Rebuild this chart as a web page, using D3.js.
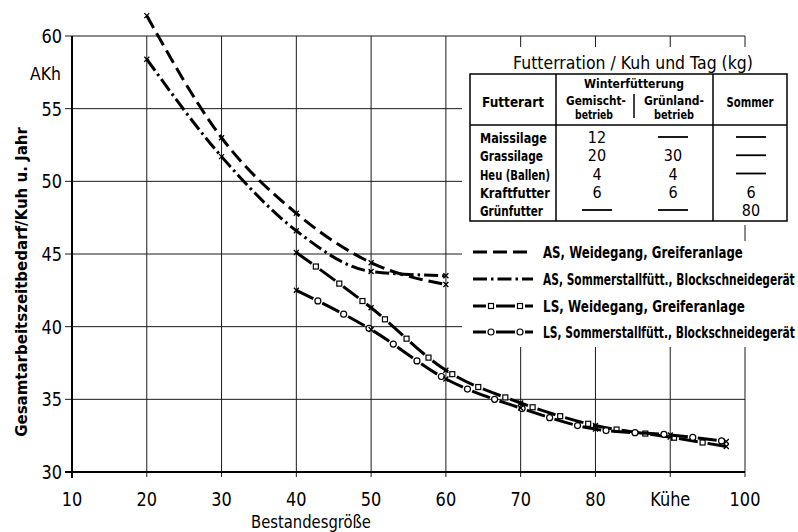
<!DOCTYPE html>
<html lang="de">
<head>
  <meta charset="UTF-8">
  <title>Gesamtarbeitszeitbedarf</title>
  <style>
    body { margin: 0; background: #fff; }
    svg { display: block; font-family: "DejaVu Sans", sans-serif; }
  </style>
</head>
<body>
  <script src="https://d3js.org/d3.v7.min.js"></script>
  <script>

    // herd size (cows) and working time per cow and year (AKh)
    const asHerd = [20, 30, 40, 50, 60];
    const lsHerd = [40, 50, 60, 70, 80, 90, 97.5];
    const asWeide = [61.4, 53.0, 47.8, 44.4, 42.9];
    const asSommer = [58.4, 51.7, 46.6, 43.8, 43.5];
    const lsWeide = [45.1, 41.3, 37.0, 34.75, 33.2, 32.4, 31.75];
    const lsSommer = [42.5, 39.8, 36.4, 34.4, 32.95, 32.55, 32.1];
    const seriesNames = [
      'AS, Weidegang, Greiferanlage',
      'AS, Sommerstallfütt., Blockschneidegerät',
      'LS, Weidegang, Greiferanlage',
      'LS, Sommerstallfütt., Blockschneidegerät'
    ];

    const xTicks = [10, 20, 30, 40, 50, 60, 70, 80, 90, 100];
    const xTickLabels = ['10', '20', '30', '40', '50', '60', '70', '80', 'Kühe', '100'];
    const yTicks = [30, 35, 40, 45, 50, 55, 60];

    // feed ration table
    const feedTypes = ['Maissilage', 'Grassilage', 'Heu (Ballen)', 'Kraftfutter', 'Grünfutter'];
    const winterMixed = ['12', '20', '4', '6', null];
    const winterGrass = [null, '30', '4', '6', null];
    const summer = [null, null, null, '6', '80'];

    const width = 798, height = 532;
    const svg = d3.select('body').append('svg')
      .attr('width', width)
      .attr('height', height);

    // the lettering of the original is narrow; squeeze a text horizontally to a width
    function squeeze(parent, txt, px, py, w, opts = {}) {
      const g = parent.append('g');
      const t = g.append('text')
        .attr('text-anchor', opts.anchor || 'start')
        .attr('font-size', opts.size || 14)
        .attr('font-weight', opts.weight || 'normal')
        .attr('dy', opts.dy || 0)
        .text(txt);
      const len = t.node().getComputedTextLength();
      const sx = w ? Math.min(1, w / len) : (opts.sx || 1);
      g.attr('transform', `translate(${px},${py})${opts.rotate ? ' rotate(' + opts.rotate + ')' : ''} scale(${sx},1)`);
      return t;
    }

    const x = d3.scaleLinear().domain([10, 100]).range([72, 745]);
    const y = d3.scaleLinear().domain([30, 60]).range([472, 36]);

    // grid
    const grid = svg.append('g').attr('stroke', '#1a1a1a').attr('stroke-width', 1);
    grid.selectAll('line.v')
      .data(xTicks.slice(1))
      .join('line')
      .attr('x1', d => x(d)).attr('x2', d => x(d))
      .attr('y1', y(60)).attr('y2', y(30) + 5);
    grid.selectAll('line.h')
      .data(yTicks.slice(1))
      .join('line')
      .attr('x1', x(10) - 7).attr('x2', x(100))
      .attr('y1', d => y(d)).attr('y2', d => y(d));

    // axes
    svg.append('line')
      .attr('x1', x(10)).attr('x2', x(10))
      .attr('y1', y(60)).attr('y2', y(30) + 6)
      .attr('stroke', '#000').attr('stroke-width', 2);
    svg.append('line')
      .attr('x1', x(10) - 7).attr('x2', x(100))
      .attr('y1', y(30)).attr('y2', y(30))
      .attr('stroke', '#000').attr('stroke-width', 2);

    const ticks = svg.append('g');
    yTicks.forEach(v => {
      squeeze(ticks, String(v), x(10) - 10, y(v), null, { anchor: 'end', size: 19, dy: '0.36em', sx: 0.85 });
    });
    xTicks.forEach((v, i) => {
      squeeze(ticks, xTickLabels[i], x(v), 506, null, { anchor: 'middle', size: 19, sx: 0.85 });
    });

    squeeze(svg, 'AKh', 61, 80, 31, { anchor: 'end', size: 18 });

    squeeze(svg, 'Gesamtarbeitszeitbedarf/Kuh  u. Jahr', 27, 282, 310,
      { anchor: 'middle', size: 16, weight: 'bold', rotate: -90 });

    squeeze(svg, 'Bestandesgröße', 311, 528, 120, { anchor: 'middle', size: 17 });

    // curves
    const line = d3.line()
      .x(d => x(d[0]))
      .y(d => y(d[1]))
      .curve(d3.curveMonotoneX);

    const series = [
      { name: seriesNames[0], xs: asHerd, ys: asWeide, dash: '14 6', mark: null },
      { name: seriesNames[1], xs: asHerd, ys: asSommer, dash: '14 4 2.5 4', mark: null },
      { name: seriesNames[2], xs: lsHerd, ys: lsWeide, dash: '19 10', mark: 'square' },
      { name: seriesNames[3], xs: lsHerd, ys: lsSommer, dash: '19 10', mark: 'circle' }
    ];

    function drawMark(g, kind, px, py) {
      if (kind === 'square') {
        g.append('rect')
          .attr('x', px - 2.5).attr('y', py - 2.5)
          .attr('width', 5).attr('height', 5)
          .attr('fill', '#fff').attr('stroke', '#000').attr('stroke-width', 1.2);
      } else if (kind === 'circle') {
        g.append('circle')
          .attr('cx', px).attr('cy', py).attr('r', 3)
          .attr('fill', '#fff').attr('stroke', '#000').attr('stroke-width', 1.2);
      }
    }

    // dash pattern with open symbols set into the gaps
    function patterned(g, d, s, offset, firstMark) {
      const path = g.append('path')
        .attr('d', d)
        .attr('fill', 'none')
        .attr('stroke', '#000')
        .attr('stroke-width', 3)
        .attr('stroke-dasharray', s.dash)
        .attr('stroke-dashoffset', offset);
      if (s.mark) {
        const node = path.node();
        const len = node.getTotalLength();
        for (let t = firstMark; t < len - 3; t += 29) {
          const p = node.getPointAtLength(t);
          drawMark(g, s.mark, p.x, p.y);
        }
      }
    }

    const plot = svg.append('g');
    series.forEach(s => {
      const pts = d3.zip(s.xs, s.ys);
      patterned(plot, line(pts), s, 0, 24);
      plot.selectAll(null)
        .data(pts)
        .join('path')
        .attr('transform', d => `translate(${x(d[0])},${y(d[1])})`)
        .attr('d', 'M-2.5,-2.5L2.5,2.5M-2.5,2.5L2.5,-2.5')
        .attr('stroke', '#000')
        .attr('stroke-width', 1.3);
    });

    // table
    const tb = svg.append('g');
    tb.append('rect').attr('x', 462).attr('y', 47).attr('width', 336).attr('height', 178).attr('fill', '#fff');
    squeeze(tb, 'Futterration / Kuh und Tag (kg)', 633, 69, 240, { anchor: 'middle', size: 17 });

    const colX = [470, 556, 713, 787];
    const tTop = 74, tHead = 125, tBottom = 221;
    tb.append('rect')
      .attr('x', colX[0]).attr('y', tTop)
      .attr('width', colX[3] - colX[0]).attr('height', tBottom - tTop)
      .attr('fill', 'none').attr('stroke', '#000').attr('stroke-width', 1.5);
    const tl = tb.append('g').attr('stroke', '#000').attr('stroke-width', 1.5);
    tl.append('line').attr('x1', colX[0]).attr('x2', colX[3]).attr('y1', tHead).attr('y2', tHead);
    tl.append('line').attr('x1', colX[1]).attr('x2', colX[1]).attr('y1', tTop).attr('y2', tBottom);
    tl.append('line').attr('x1', colX[2]).attr('x2', colX[2]).attr('y1', tTop).attr('y2', tBottom);
    tl.append('line').attr('x1', 634).attr('x2', 634).attr('y1', 94).attr('y2', 118);

    const headCells = [
      ['Futterart', 513, 107, 62, 14],
      ['Winterfütterung', 634, 88, 100, 13],
      ['Gemischt-', 596, 105, 60, 12.5],
      ['betrieb', 594, 119, 38, 12.5],
      ['Grünland-', 674, 105, 60, 12.5],
      ['betrieb', 674, 119, 40, 12.5],
      ['Sommer', 750, 107, 47, 14]
    ];
    headCells.forEach(([t, hx, hy, w, fs]) => {
      squeeze(tb, t, hx, hy, w, { anchor: 'middle', size: fs, weight: 'bold' });
    });

    const rowY = d3.scaleLinear().domain([0, feedTypes.length - 1]).range([143, 216]);
    const rowW = [67, 63, 70, 70, 63];
    feedTypes.forEach((t, i) => {
      squeeze(tb, t, 480, rowY(i), rowW[i], { size: 14, weight: 'bold' });
    });

    [[winterMixed, 597], [winterGrass, 673], [summer, 751]].forEach(([col, cx]) => {
      col.forEach((v, i) => {
        if (v === null) {
          tb.append('line')
            .attr('x1', cx - 15).attr('x2', cx + 15)
            .attr('y1', rowY(i) - 6).attr('y2', rowY(i) - 6)
            .attr('stroke', '#000').attr('stroke-width', 1.8);
        } else {
          squeeze(tb, v, cx, rowY(i), null, { anchor: 'middle', size: 16, sx: 0.9 });
        }
      });
    });

    // legend
    const lg = svg.append('g');
    lg.append('rect').attr('x', 462).attr('y', 225).attr('width', 274).attr('height', 122).attr('fill', '#fff');
    lg.append('rect').attr('x', 736).attr('y', 241).attr('width', 62).attr('height', 106).attr('fill', '#fff');
    const legY = [252, 279, 306, 332];
    const legLen = [200, 252, 202, 252];
    series.forEach((s, i) => {
      const d = d3.line()([[473, legY[i]], [533, legY[i]]]);
      patterned(lg, d, s, s.mark ? 6 : 0, 18);
      squeeze(lg, s.name, 543, legY[i], legLen[i], { size: 16, weight: 'bold', dy: '0.36em' });
    });

  </script>
</body>
</html>
